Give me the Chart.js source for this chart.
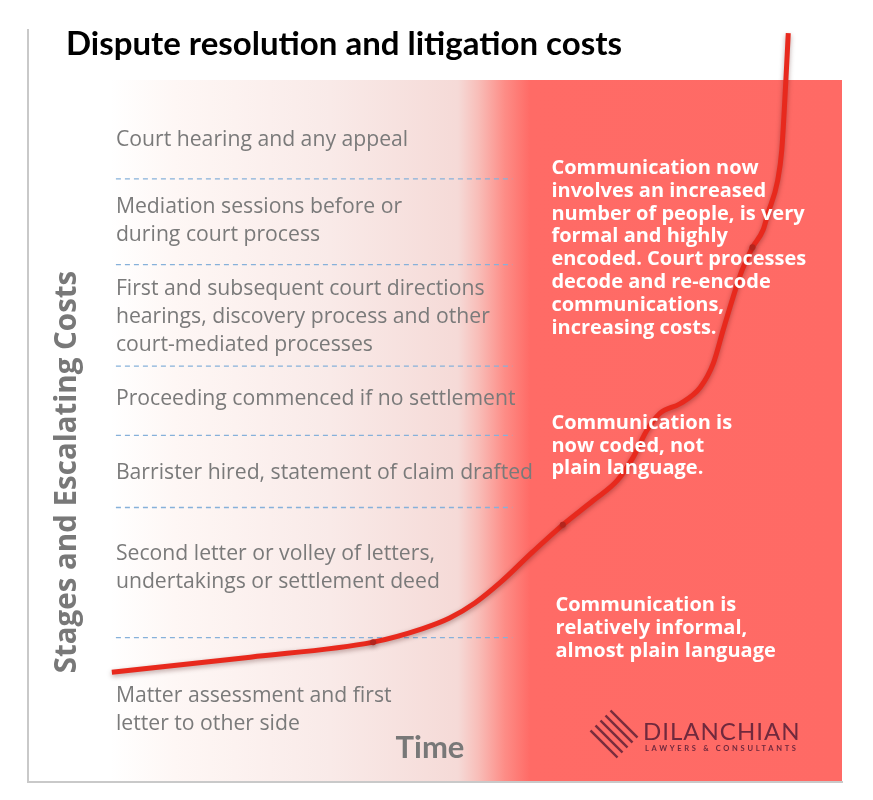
<!DOCTYPE html>
<html>
<head>
<meta charset="utf-8">
<script src="https://cdn.jsdelivr.net/npm/chart.js@4.4.1/dist/chart.umd.min.js"></script>
<style>
  html, body { margin: 0; padding: 0; background: #fff; }
  #wrap { width: 873px; height: 800px; }
</style>
</head>
<body>
<div id="wrap"><canvas id="chart" width="873" height="800"></canvas></div>
<script>
// time (x) and cost (y) along the escalation curve, 0-100 units
const timeValues = [10.3, 27.3, 42.4, 48.5, 51.8, 54.9, 58.0, 62.0, 65.7, 69.4, 72.4, 74.3, 76.0, 77.6,
                    80.1, 82.6, 84.2, 85.4, 86.6, 87.7, 89.0, 90.3, 90.9, 92.1, 92.6, 93.1, 93.4];
const costValues = [14.6, 16.6, 18.6, 20.4, 21.8, 23.8, 26.5, 30.6, 34.2, 37.4, 40.1, 43.1, 46.7, 49.0,
                    50.3, 52.5, 55.7, 60.1, 64.4, 68.0, 71.1, 73.4, 75.6, 80.0, 84.0, 93.2, 99.6];
// indexes of the stage turning points (little knots on the line)
const knotIndexes = [2, 8, 20];

// dashed separators between stages (cost level) and their time span
const stageBoundaries = [80.2, 68.8, 55.3, 46.1, 36.5, 19.2];
const boundaryStart = 10.8;
const boundaryEnd = 59.5;

const stageLabels = [
  ['Court hearing and any appeal'],
  ['Mediation sessions before or', 'during court process'],
  ['First and subsequent court directions', 'hearings, discovery process and other', 'court-mediated processes'],
  ['Proceeding commenced if no settlement'],
  ['Barrister hired, statement of claim drafted'],
  ['Second letter or volley of letters,', 'undertakings or settlement deed'],
  ['Matter assessment and first', 'letter to other side']
];
const stageLevels = [85.4, 74.6, 61.9, 51.0, 41.1, 28.4, 9.6];

const noteLabels = [
  ['Communication now', 'involves an increased', 'number of people, is very', 'formal and highly',
   'encoded. Court processes', 'decode and re-encode', 'communications,', 'increasing costs.'],
  ['Communication is', 'now coded, not', 'plain language.'],
  ['Communication is', 'relatively informal,', 'almost plain language']
];
const noteLevels = [71.0, 44.7, 20.4];
const noteTimes = [64.3, 64.3, 64.8];

const curvePoints = timeValues.map((t, i) => ({ x: t, y: costValues[i] }));

const datasets = [{
  label: 'Costs',
  data: curvePoints,
  borderColor: '#e8291d',
  borderWidth: 5,
  cubicInterpolationMode: 'monotone',
  pointRadius: ctx => knotIndexes.includes(ctx.dataIndex) ? 3 : 0,
  pointBackgroundColor: '#b3241c',
  pointBorderWidth: 0,
  order: 0
}];
stageBoundaries.forEach(level => {
  datasets.push({
    data: [{ x: boundaryStart, y: level }, { x: boundaryEnd, y: level }],
    borderColor: '#86b1da',
    borderWidth: 1.3,
    borderDash: [5, 4],
    pointRadius: 0,
    order: 1
  });
});

const decor = {
  id: 'decor',
  beforeDraw(chart) {
    const { ctx, chartArea: a } = chart;
    const w = a.right - a.left;
    const f = px => Math.min(1, Math.max(0, (px - a.left) / w));
    ctx.save();
    ctx.fillStyle = '#fff';
    ctx.fillRect(0, 0, chart.width, chart.height);
    const g = ctx.createLinearGradient(a.left, 0, a.right, 0);
    g.addColorStop(0, 'rgba(255,255,255,1)');
    g.addColorStop(f(110), 'rgba(255,255,255,1)');
    g.addColorStop(f(175), '#fef7f5');
    g.addColorStop(f(330), '#f9eae8');
    g.addColorStop(f(458), '#f5dad7');
    g.addColorStop(f(478), '#f8beb9');
    g.addColorStop(f(505), '#fd8c86');
    g.addColorStop(f(530), '#ff6b66');
    g.addColorStop(1, '#ff6a65');
    ctx.fillStyle = g;
    ctx.fillRect(a.left, a.top + 50, w, a.bottom - a.top - 50);
    ctx.restore();
  },
  beforeDatasetDraw(chart, args) {
    if (args.index !== 0) return;
    const ctx = chart.ctx;
    ctx.save();
    ctx.shadowColor = 'rgba(60,0,0,0.35)';
    ctx.shadowBlur = 5;
    ctx.shadowOffsetY = 2;
  },
  afterDatasetDraw(chart, args) {
    if (args.index === 0) chart.ctx.restore();
  },
  afterDraw(chart) {
    const { ctx, chartArea: a, scales } = chart;
    const px = v => scales.x.getPixelForValue(v);
    const py = v => scales.y.getPixelForValue(v);
    ctx.save();
    ctx.textBaseline = 'middle';

    // title
    ctx.fillStyle = '#000';
    ctx.font = 'bold 33px Lato';
    ctx.fillText('Dispute resolution and litigation costs', 66, 44);

    // stage labels
    ctx.fillStyle = '#7a7a7a';
    ctx.font = '21.2px "Open Sans"';
    stageLabels.forEach((lines, i) => {
      const y0 = py(stageLevels[i]) - (lines.length - 1) * 14;
      lines.forEach((s, j) => ctx.fillText(s, px(boundaryStart), y0 + j * 28));
    });

    // notes on the red side
    ctx.fillStyle = '#fff';
    ctx.font = 'bold 20px "Open Sans"';
    noteLabels.forEach((lines, i) => {
      const y0 = py(noteLevels[i]) - (lines.length - 1) * 11.4;
      lines.forEach((s, j) => ctx.fillText(s, px(noteTimes[i]), y0 + j * 22.8));
    });

    // axis titles
    ctx.fillStyle = '#787878';
    ctx.textAlign = 'center';
    ctx.font = 'bold 31px Lato';
    ctx.fillText('Time', (a.left + a.right) / 2 - 5, a.bottom - 34);
    ctx.save();
    ctx.translate(a.left + 40, (a.top + a.bottom) / 2 + 66);
    ctx.rotate(-Math.PI / 2);
    ctx.font = 'bold 29.5px "Open Sans"';
    ctx.fillText('Stages and Escalating Costs', 0, 0);
    ctx.restore();

    // logo
    const cx = a.right - 228, cy = a.bottom - 48;
    ctx.save();
    ctx.beginPath();
    ctx.moveTo(cx, cy - 27); ctx.lineTo(cx + 27, cy); ctx.lineTo(cx, cy + 27); ctx.lineTo(cx - 27, cy);
    ctx.closePath();
    ctx.clip();
    ctx.strokeStyle = '#7a2d3d';
    ctx.lineWidth = 2.4;
    for (let k = -6; k <= 6; k++) {
      ctx.beginPath();
      ctx.moveTo(cx - 34 + k * 5, cy - 34 - k * 5);
      ctx.lineTo(cx + 34 + k * 5, cy + 34 - k * 5);
      ctx.stroke();
    }
    ctx.restore();
    ctx.textAlign = 'left';
    ctx.fillStyle = '#70293d';
    ctx.font = '24px Lato';
    ctx.letterSpacing = '1px';
    ctx.fillText('DILANCHIAN', a.right - 199, a.bottom - 50);
    ctx.font = 'bold 7.5px Lato';
    ctx.letterSpacing = '2.7px';
    ctx.fillText('LAWYERS & CONSULTANTS', a.right - 197, a.bottom - 33);
    ctx.restore();
  }
};

new Chart(document.getElementById('chart'), {
  type: 'line',
  data: { datasets: datasets },
  options: {
    responsive: false,
    animation: false,
    devicePixelRatio: 1,
    layout: { padding: { left: 20, top: 30, right: 31, bottom: 10 } },
    plugins: { legend: { display: false }, tooltip: { enabled: false } },
    scales: {
      x: {
        type: 'linear', min: 0, max: 100,
        grid: { display: false },
        ticks: { display: false },
        border: { color: '#c9c9c9', width: 2 }
      },
      y: {
        type: 'linear', min: 0, max: 100,
        grid: { display: false },
        ticks: { display: false },
        border: { color: '#c9c9c9', width: 2 }
      }
    }
  },
  plugins: [decor]
});
</script>
</body>
</html>
